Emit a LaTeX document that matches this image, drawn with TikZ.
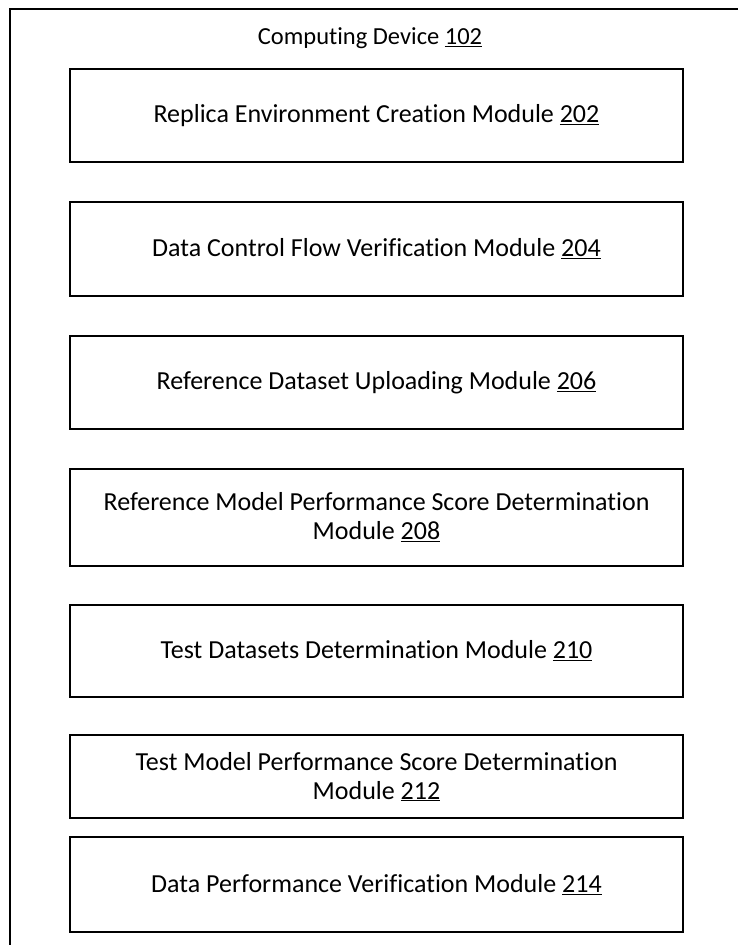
\documentclass[tikz,border=0pt]{standalone}
\usepackage{fontspec}
\setmainfont[Ligatures=NoCommon]{Carlito}
\begin{document}
\begin{tikzpicture}[x=1pt,y=-1pt,
  modbox/.style={draw=black, line width=2.6pt, minimum width=613pt, inner sep=0pt, align=center, font=\fontsize{26}{29}\selectfont},
  frame/.style={draw=black, line width=2.4pt}]
\useasboundingbox (0,0) rectangle (737,945);
\coordinate (fb) at (10,950);
\coordinate (ftl) at (10,9);
\coordinate (fr) at (745,9);
\draw[frame] (fb) -- (ftl) -- (fr);
\node[font=\fontsize{24.5}{29}\selectfont] (title) at (370,38) {Computing Device \underline{102}};
\node[modbox, minimum height=93pt] (m202) at (376.5,115.5) {Replica Environment Creation Module \underline{202}};
\node[modbox, minimum height=94pt] (m204) at (376.5,249) {Data Control Flow Verification Module \underline{204}};
\node[modbox, minimum height=93pt] (m206) at (376.5,382.5) {Reference Dataset Uploading Module \underline{206}};
\node[modbox, minimum height=97pt] (m208) at (376.5,517.5) {Reference Model Performance Score Determination\\Module \underline{208}};
\node[modbox, minimum height=92pt] (m210) at (376.5,651) {Test Datasets Determination Module \underline{210}};
\node[modbox, minimum height=83pt] (m212) at (376.5,776.5) {Test Model Performance Score Determination\\Module \underline{212}};
\node[modbox, minimum height=95pt] (m214) at (376.5,884.5) {Data Performance Verification Module \underline{214}};
\end{tikzpicture}
\end{document}
